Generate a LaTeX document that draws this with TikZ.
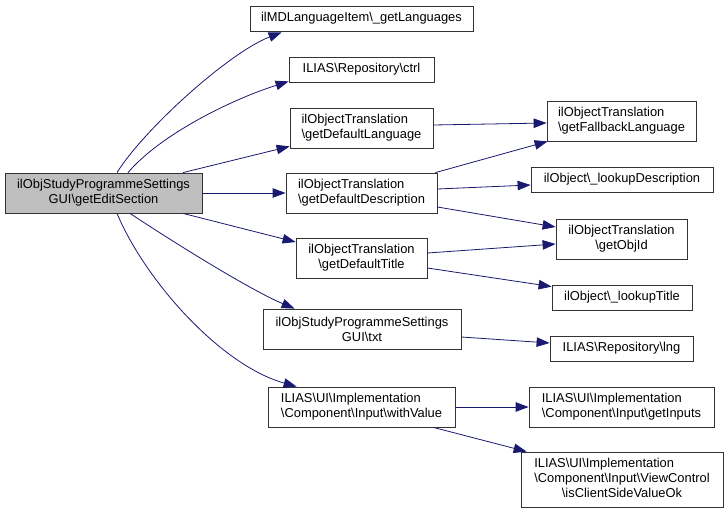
\documentclass[tikz,border=0pt]{standalone}
\usepackage{fontspec}
\setmainfont{Liberation Sans}
\usetikzlibrary{arrows.meta}
\definecolor{edgeblue}{HTML}{191970}
\definecolor{nodegray}{HTML}{BFBFBF}
\begin{document}
\begin{tikzpicture}[x=1pt,y=-1pt,
  box/.style={draw=black!80, line width=0.8pt, fill=white, inner sep=0pt,
    font=\fontsize{12.9}{15}\selectfont},
  edge/.style={draw=edgeblue, line width=0.8pt,
    -{Triangle[length=13pt,width=9.5pt]}},
  bs/.style={}]
\useasboundingbox (0,0) rectangle (728,513);
% nodes
\node[box, fill=nodegray, minimum width=197pt, minimum height=40pt, align=center] (main) at (103.5,193)
  {ilObjStudyProgrammeSettings\\GUI\textbackslash getEditSection};
\node[box, minimum width=223pt, minimum height=25pt] (lang) at (361.5,18.5)
  {ilMDLanguageItem\textbackslash\_getLanguages};
\node[box, minimum width=145pt, minimum height=25pt] (ctrl) at (361.5,69.5)
  {ILIAS\textbackslash Repository\textbackslash ctrl};
\node[box, minimum width=143pt, minimum height=40pt, align=left] (deflang) at (361.5,128)
  {ilObjectTranslation\\\textbackslash getDefaultLanguage};
\node[box, minimum width=151pt, minimum height=40pt, align=left] (defdesc) at (361.5,193)
  {ilObjectTranslation\\\textbackslash getDefaultDescription};
\node[box, minimum width=131pt, minimum height=40pt, align=center] (deftitle) at (361.5,258)
  {ilObjectTranslation\\\textbackslash getDefaultTitle};
\node[box, minimum width=198pt, minimum height=40pt, align=center] (txt) at (362,329)
  {ilObjStudyProgrammeSettings\\GUI\textbackslash txt};
\node[box, minimum width=187pt, minimum height=40pt, align=left] (withval) at (361.5,407)
  {ILIAS\textbackslash UI\textbackslash Implementation\\\textbackslash Component\textbackslash Input\textbackslash withValue};
\node[box, minimum width=149pt, minimum height=40pt, align=left] (fallback) at (621.5,121)
  {ilObjectTranslation\\\textbackslash getFallbackLanguage};
\node[box, minimum width=182pt, minimum height=25pt] (lookdesc) at (622,179.5)
  {ilObject\textbackslash\_lookupDescription};
\node[box, minimum width=131pt, minimum height=40pt, align=center] (objid) at (621.5,239)
  {ilObjectTranslation\\\textbackslash getObjId};
\node[box, minimum width=140pt, minimum height=25pt] (looktitle) at (622,297.5)
  {ilObject\textbackslash\_lookupTitle};
\node[box, minimum width=143pt, minimum height=25pt] (lng) at (621.5,348.5)
  {ILIAS\textbackslash Repository\textbackslash lng};
\node[box, minimum width=185pt, minimum height=40pt, align=left] (inputs) at (621.5,407)
  {ILIAS\textbackslash UI\textbackslash Implementation\\\textbackslash Component\textbackslash Input\textbackslash getInputs};
\node[box, minimum width=202pt, minimum height=55pt] (client) at (622,479.5)
  {\begin{tabular}{@{}l@{}}ILIAS\textbackslash UI\textbackslash Implementation\\
   \textbackslash Component\textbackslash Input\textbackslash ViewControl\\
   \multicolumn{1}{@{}c@{}}{\textbackslash isClientSideValueOk}\end{tabular}};
% edges from main
\draw[edge] ([xshift=13.5pt]main.north) .. controls (145,128) and (230,52) .. ([xshift=32pt,yshift=-1pt]lang.south west);
\draw[edge] ([xshift=24.5pt]main.north) .. controls (160,135) and (230,100) .. ([yshift=1pt]ctrl.south west);
\draw[edge] ([xshift=79.5pt]main.north) -- ([yshift=2pt]deflang.south west);
\draw[edge] (main.east) -- (defdesc.west);
\draw[edge] ([xshift=79.5pt]main.south) -- ([yshift=16pt]deftitle.west);
\draw[edge] ([xshift=26.5pt]main.south) .. controls (170,240) and (250,290) .. ([xshift=32pt]txt.north west);
\draw[edge] ([xshift=13.5pt]main.south) .. controls (145,280) and (220,365) .. ([xshift=29pt]withval.north west);
% second level
\draw[edge] ([yshift=3pt]deflang.east) -- ([yshift=-2pt]fallback.west);
\draw[edge] ([xshift=-2pt]defdesc.north east) -- ([xshift=1pt]fallback.south west);
\draw[edge] ([yshift=4pt]defdesc.east) -- ([yshift=-5.5pt]lookdesc.west);
\draw[edge] ([yshift=-14pt]defdesc.east) -- ([yshift=12pt]objid.west);
\draw[edge] ([yshift=5pt]deftitle.east) -- ([yshift=-5pt]objid.west);
\draw[edge] ([yshift=-10pt]deftitle.east) -- ([yshift=-2pt]looktitle.north west);
\draw[edge] ([yshift=-8pt]txt.east) -- ([yshift=5.5pt]lng.west);
\draw[edge] (withval.east) -- (inputs.west);
\draw[edge] ([xshift=-22pt]withval.south east) -- ([xshift=6pt]client.north west);
\end{tikzpicture}
\end{document}
